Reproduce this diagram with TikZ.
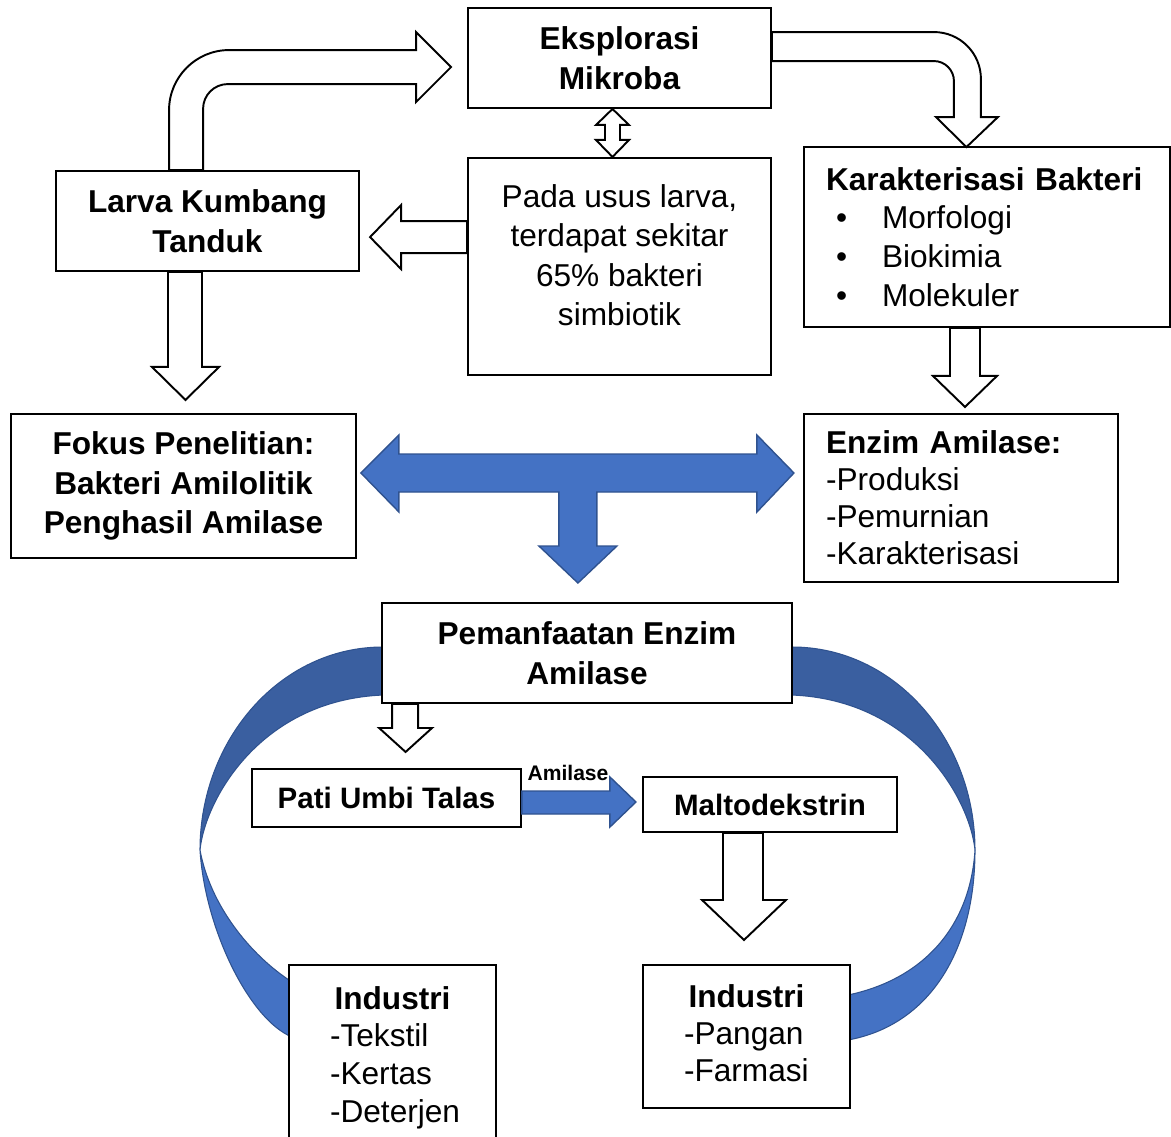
\documentclass[tikz,border=0pt]{standalone}
\usepackage{fontspec}
\setmainfont{Liberation Sans}
\usepackage{tikz}
\usetikzlibrary{calc}
\usetikzlibrary{backgrounds}

\definecolor{birutua}{HTML}{3A5FA0}
\definecolor{birumuda}{HTML}{4472C4}
\definecolor{birugaris}{HTML}{2F528F}

\begin{document}
\begin{tikzpicture}[x=0.02cm, y=-0.02cm,
    boxnode/.style={draw, line width=1.1pt, fill=white, inner sep=0pt, align=center,
        font=\fontsize{18}{22.5}\selectfont\bfseries},
    listnode/.style={draw, line width=1.1pt, fill=white, inner xsep=0.44cm, inner ysep=0pt,
        align=left, font=\fontsize{18}{22.5}\selectfont},
    whitearrow/.style={draw, line width=1.1pt, fill=white, line join=miter},
    bluearrow/.style={draw=birugaris, line width=0.8pt, fill=birumuda},
    bandtop/.style={draw=birugaris, line width=0.6pt, fill=birutua},
    bandbottom/.style={draw=birugaris, line width=0.6pt, fill=birumuda}]
    \useasboundingbox (0,0) rectangle (1171,1137);

    % kotak-kotak
    \node[boxnode, minimum width=6.06cm, minimum height=2cm] (eksplorasi) at (619.5,58) {Eksplorasi\\Mikroba};
    \node[boxnode, minimum width=6.06cm, minimum height=4.34cm] (pada) at (619.5,266.5) {};
    \node[align=center, font=\fontsize{18}{22.5}\selectfont] (padatext) at (619.5,255)
        {Pada usus larva,\\terdapat sekitar\\65\% bakteri\\simbiotik};
    \node[boxnode, minimum width=6.06cm, minimum height=2cm] (larva) at (207.5,221) {Larva Kumbang\\Tanduk};
    \node[listnode, text width=6.44cm, minimum height=3.6cm,
        font=\fontsize{18}{22}\selectfont] (karakter) at (987,237)
        {\textbf{Karakterisasi Bakteri}\\
         \makebox[1.12cm][l]{\hspace{0.2cm}\textbullet}Morfologi\\
         \makebox[1.12cm][l]{\hspace{0.2cm}\textbullet}Biokimia\\
         \makebox[1.12cm][l]{\hspace{0.2cm}\textbullet}Molekuler};
    \node[boxnode, minimum width=6.9cm, minimum height=2.88cm] (fokus) at (183.5,486)
        {Fokus Penelitian:\\Bakteri Amilolitik\\Penghasil Amilase};
    \node[listnode, text width=5.4cm, minimum height=3.36cm,
        font=\fontsize{18}{21}\selectfont] (enzim) at (961,498)
        {\textbf{Enzim Amilase:}\\-Produksi\\-Pemurnian\\-Karakterisasi};
    \node[boxnode, minimum width=8.2cm, minimum height=2cm] (pemanfaatan) at (587,653) {Pemanfaatan Enzim\\Amilase};
    \node[boxnode, minimum width=5.38cm, minimum height=1.16cm,
        font=\fontsize{16.8}{20}\selectfont\bfseries] (pati) at (386.5,798) {Pati Umbi Talas};
    \node[boxnode, minimum width=5.08cm, minimum height=1.1cm,
        font=\fontsize{16.8}{20}\selectfont\bfseries] (malto) at (770,804.5) {Maltodekstrin};
    \node[listnode, inner xsep=0pt, text width=2.5cm, minimum width=4.14cm, minimum height=3.7cm,
        font=\fontsize{18}{21.5}\selectfont] (indkiri) at (392.5,1057.5)
        {\makebox[2.5cm][c]{\textbf{Industri}}\\-Tekstil\\-Kertas\\\mbox{-Deterjen}};
    \node[listnode, inner xsep=0pt, text width=2.5cm, minimum width=4.14cm, minimum height=2.86cm,
        font=\fontsize{18}{21}\selectfont] (indkanan) at (746.5,1036.5) {};
    \node[align=left, text width=2.5cm, inner sep=0pt,
        font=\fontsize{18}{21}\selectfont] (indkanantext) at (746.5,1033.5)
        {\makebox[2.5cm][c]{\textbf{Industri}}\\-Pangan\\-Farmasi};
    \node[font=\fontsize{12}{14}\selectfont\bfseries, inner sep=0pt] (amilase) at (568,773) {Amilase};

    % pita biru melingkar
    \begin{scope}[on background layer]
        \draw[bandtop] (383,647) .. controls (280,647) and (200,740) .. (200,850)
            .. controls (205,800) and (260,700) .. (383,695) -- cycle;
        \draw[bandbottom] (200,850) .. controls (205,930) and (250,1020) .. (292,1037)
            -- (292,982) .. controls (250,955) and (210,905) .. (200,850) -- cycle;
        \draw[bandtop] (792,647) .. controls (895,647) and (975,740) .. (975,850)
            .. controls (970,800) and (915,700) .. (792,695) -- cycle;
        \draw[bandbottom] (975,850) .. controls (975,950) and (930,1025) .. (848,1040)
            -- (848,995) .. controls (920,980) and (970,930) .. (975,850) -- cycle;
    \end{scope}

    % panah putih
    \draw[whitearrow] ($(larva.north west)+(114,0)$) -- ++(0,-60)
        .. controls +(0,-33) and +(-33,0) .. ++(60,-60) -- ++(187,0) -- ++(0,-18)
        -- ++(35,35) -- ++(-35,35) -- ++(0,-18) -- ++(-188,0)
        .. controls +(-14,0) and +(0,-14) .. ++(-25,25) -- ++(0,61) -- cycle;
    \draw[whitearrow] ($(eksplorasi.north east)+(0,25)$) -- ++(162,0)
        .. controls +(26,0) and +(0,-26) .. ++(47,47) -- ++(0,38) -- ++(17,0)
        -- ++(-31.5,30) -- ++(-30.5,-30) -- ++(18,0) -- ++(0,-36)
        .. controls +(0,-11) and +(11,0) .. ++(-20,-20) -- ++(-162,0) -- cycle;
    \draw[whitearrow] ($(eksplorasi.south)+(-7,0)$) -- ++(16.5,16) -- ++(-9,0) -- ++(0,15)
        -- ++(9,0) -- ++(-16.5,17) -- ++(-16.5,-17) -- ++(9,0) -- ++(0,-15) -- ++(-9,0) -- cycle;
    \draw[whitearrow] ($(pada.north west)+(0,64)$) -- ++(-66,0) -- ++(0,-16) -- ++(-31,32)
        -- ++(31,32) -- ++(0,-16) -- ++(66,0) -- cycle;
    \draw[whitearrow] ($(larva.south)+(-39.5,0)$) -- ++(0,95) -- ++(-16,0) -- ++(33.5,33)
        -- ++(33.5,-33) -- ++(-17,0) -- ++(0,-95) -- cycle;
    \draw[whitearrow] ($(karakter.south)+(-37,0)$) -- ++(0,48) -- ++(-17,0) -- ++(32,31)
        -- ++(32,-31) -- ++(-17,0) -- ++(0,-48) -- cycle;
    \draw[whitearrow] ($(pemanfaatan.south west)+(11,0)$) -- ++(0,24) -- ++(-13,0) -- ++(26.5,24)
        -- ++(26.5,-24) -- ++(-14,0) -- ++(0,-24) -- cycle;
    \draw[whitearrow] ($(malto.south)+(-47,0)$) -- ++(0,67) -- ++(-21,0) -- ++(42,40)
        -- ++(42,-40) -- ++(-23,0) -- ++(0,-67) -- cycle;

    % panah biru
    \draw[bluearrow] ($(fokus.east)+(4,-13)$) -- ++(38,-38) -- ++(0,19) -- ++(358,0) -- ++(0,-19)
        -- ++(37,38) -- ++(-37,39) -- ++(0,-20) -- ++(-160,0) -- ++(0,54) -- ++(20,0)
        -- ++(-39,37) -- ++(-39,-37) -- ++(20,0) -- ++(0,-54) -- ++(-160,0) -- ++(0,20) -- cycle;
    \draw[bluearrow] ($(pati.east)+(0,-7)$) -- ++(88,0) -- ++(0,-14) -- ++(26,25) -- ++(-26,25)
        -- ++(0,-13) -- ++(-88,0) -- cycle;
\end{tikzpicture}
\end{document}
